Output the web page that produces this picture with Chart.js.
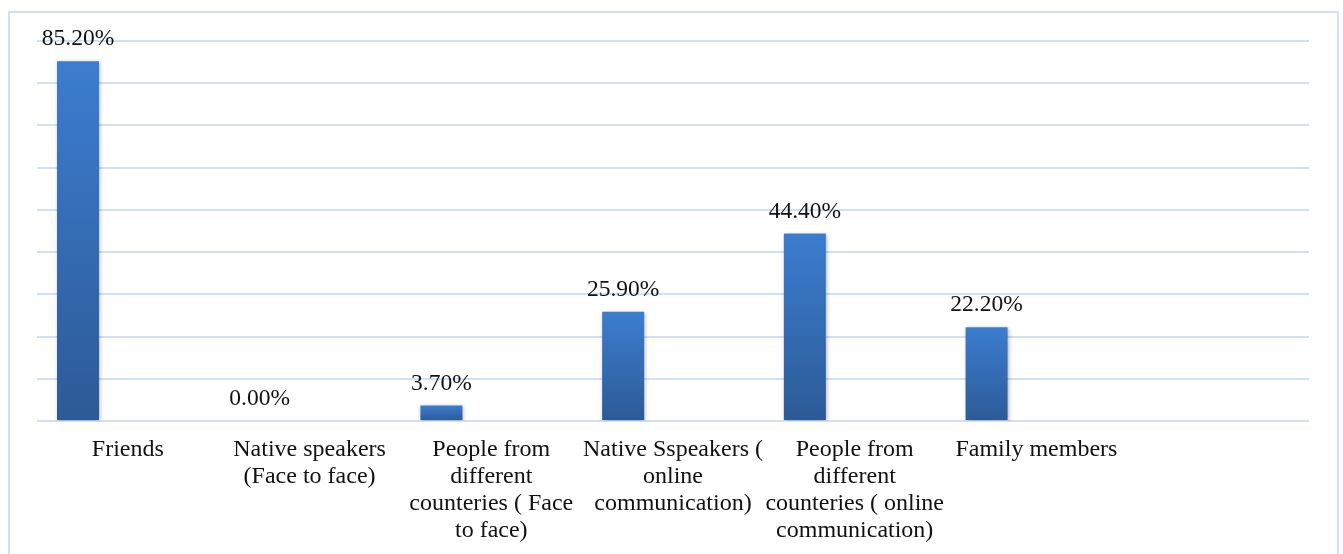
<!DOCTYPE html>
<html>
<head>
<meta charset="utf-8">
<script src="https://cdn.jsdelivr.net/npm/chart.js@4.4.1/dist/chart.umd.min.js"></script>
<style>
  html, body { margin: 0; padding: 0; background: #fff; }
  #wrap { width: 1343px; height: 554px; position: relative; }
</style>
</head>
<body>
<div id="wrap"><canvas id="chart"></canvas></div>
<script>
const categories = [
    'Friends',
    ['Native speakers', '(Face to face)'],
    ['People from', 'different', 'counteries ( Face', 'to face)'],
    ['Native Sspeakers (', 'online', 'communication)'],
    ['People from', 'different', 'counteries ( online', 'communication)'],
    'Family members',
    ''
];
const percentValues = [85.2, 0.0, 3.7, 25.9, 44.4, 22.2, null];
const emptySeries = [null, null, null, null, null, null, null];
const yTicks = { min: 0, max: 90, step: 10 };

const FONT = '"Liberation Serif", "Times New Roman", serif';

// Outer frame around the whole chart
const framePlugin = {
    id: 'frame',
    beforeDraw(chart) {
        const ctx = chart.ctx;
        ctx.save();
        ctx.strokeStyle = '#d3e0f3';
        ctx.lineWidth = 2;
        ctx.strokeRect(9, 12, 1329, 600);
        ctx.restore();
    }
};

// Soft shadow behind the bars
const shadowPlugin = {
    id: 'barShadow',
    beforeDatasetDraw(chart) {
        const ctx = chart.ctx;
        ctx.save();
        ctx.shadowColor = 'rgba(0,0,0,0.28)';
        ctx.shadowBlur = 4;
        ctx.shadowOffsetX = 1;
        ctx.shadowOffsetY = 1;
    },
    afterDatasetDraw(chart) {
        chart.ctx.restore();
    }
};

// Percent text above each bar
const valueLabels = {
    id: 'valueLabels',
    afterDatasetsDraw(chart) {
        const ctx = chart.ctx;
        const meta = chart.getDatasetMeta(0);
        ctx.save();
        ctx.font = '23.5px ' + FONT;
        ctx.fillStyle = '#111';
        ctx.textAlign = 'center';
        ctx.textBaseline = 'middle';
        meta.data.forEach((bar, i) => {
            const v = percentValues[i];
            if (v === null) return;
            ctx.fillText(v.toFixed(2) + '%', bar.x, bar.y - 22);
        });
        ctx.restore();
    }
};

function barGradient(context) {
    const chart = context.chart;
    const v = context.raw;
    if (!chart.chartArea || v === null) return '#3a78c6';
    const yScale = chart.scales.y;
    const top = yScale.getPixelForValue(v);
    const bottom = yScale.getPixelForValue(0);
    const g = chart.ctx.createLinearGradient(0, Math.min(top, bottom - 1), 0, bottom);
    g.addColorStop(0, '#3c7dcf');
    g.addColorStop(1, '#2c5a96');
    return g;
}

const ctx = document.getElementById('chart').getContext('2d');
new Chart(ctx, {
    type: 'bar',
    data: {
        labels: categories,
        datasets: [
            { data: percentValues, backgroundColor: barGradient, borderWidth: 0 },
            { data: emptySeries },
            { data: emptySeries }
        ]
    },
    options: {
        responsive: true,
        maintainAspectRatio: false,
        animation: false,
        categoryPercentage: 0.823,
        barPercentage: 0.843,
        layout: { padding: { left: 37, right: 34, top: 41, bottom: 0 } },
        plugins: {
            legend: { display: false },
            tooltip: { enabled: false }
        },
        scales: {
            x: {
                grid: { display: false, drawTicks: false },
                border: { display: false },
                ticks: {
                    color: '#111',
                    font: { family: FONT, size: 24, lineHeight: 1.125 },
                    padding: 15,
                    maxRotation: 0,
                    autoSkip: false
                },
                afterFit(scale) { scale.height = 133; }
            },
            y: {
                min: yTicks.min,
                max: yTicks.max,
                ticks: { display: false, stepSize: yTicks.step },
                grid: { color: '#d3e0f3', lineWidth: 2, drawTicks: false },
                border: { display: false }
            }
        }
    },
    plugins: [framePlugin, shadowPlugin, valueLabels]
});
</script>
</body>
</html>
